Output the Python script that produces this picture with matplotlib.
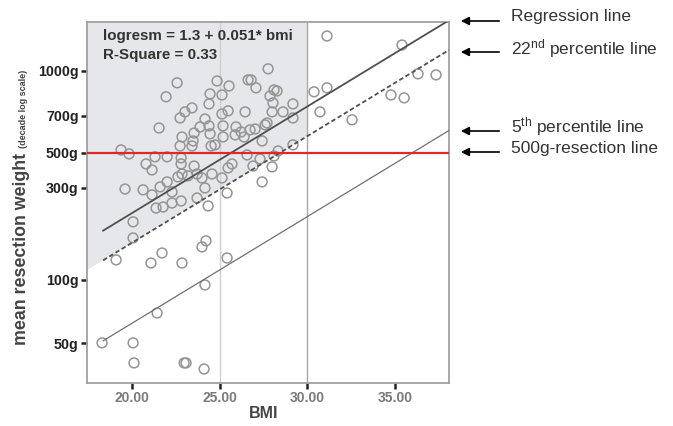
import matplotlib.pyplot as plt

plt.rcParams['font.family'] = ['Liberation Sans', 'DejaVu Sans']
plt.rcParams['mathtext.fontset'] = 'custom'
plt.rcParams['mathtext.rm'] = 'Liberation Sans'
plt.rcParams['mathtext.default'] = 'regular'

# BMI and log10 of mean resection weight (g)
bmi = [31.12, 35.40, 36.31, 37.34, 34.77, 35.52, 31.12, 30.38, 30.72, 32.55,
       27.76, 22.57, 24.85, 25.53, 26.62, 26.79, 27.07, 21.94, 24.45, 25.13,
       28.10, 28.27, 27.87, 28.04, 29.18, 24.39, 23.42, 23.02, 22.74, 25.13,
       25.48, 26.45, 27.99, 28.61, 29.18, 24.16, 23.88, 23.54, 21.54, 24.39,
       24.45, 22.85, 23.48, 22.74, 23.42, 24.51, 24.73, 25.19, 25.19, 25.93,
       25.88, 26.22, 26.39, 26.73, 27.02, 27.59, 27.70, 27.42, 29.18, 28.33,
       19.37, 19.83, 28.10, 26.56, 21.31, 22.00, 22.80, 27.30, 20.80, 22.80,
       23.54, 21.14, 25.70, 25.48, 26.90, 27.99, 22.85, 22.62, 23.19, 23.71,
       23.99, 24.56, 25.13, 27.42, 19.60, 20.63, 21.14, 21.60, 22.00, 22.28,
       24.16, 25.42, 21.37, 21.77, 22.28, 22.80, 23.71, 24.34, 20.06, 20.06,
       19.09, 21.08, 21.71, 22.85, 23.99, 24.22, 25.42, 24.16, 21.43, 18.29,
       20.06, 20.11, 22.97, 23.08, 24.11]
log_weight = [3.167, 3.124, 2.986, 2.981, 2.885, 2.871, 2.919, 2.900, 2.804, 2.766,
              3.010, 2.943, 2.952, 2.928, 2.957, 2.957, 2.919, 2.876, 2.890, 2.885,
              2.909, 2.904, 2.880, 2.847, 2.842, 2.842, 2.823, 2.804, 2.775, 2.794,
              2.809, 2.804, 2.804, 2.804, 2.775, 2.770, 2.732, 2.703, 2.727, 2.737,
              2.699, 2.684, 2.665, 2.641, 2.641, 2.641, 2.646, 2.737, 2.684, 2.732,
              2.694, 2.708, 2.684, 2.718, 2.722, 2.742, 2.751, 2.665, 2.646, 2.617,
              2.622, 2.603, 2.593, 2.598, 2.589, 2.589, 2.584, 2.579, 2.555, 2.555,
              2.545, 2.526, 2.555, 2.536, 2.545, 2.541, 2.507, 2.493, 2.498, 2.507,
              2.488, 2.507, 2.488, 2.469, 2.435, 2.431, 2.407, 2.445, 2.469, 2.421,
              2.440, 2.416, 2.344, 2.349, 2.368, 2.378, 2.392, 2.354, 2.278, 2.201,
              2.096, 2.081, 2.129, 2.081, 2.158, 2.187, 2.105, 1.976, 1.842, 1.699,
              1.699, 1.603, 1.603, 1.603, 1.574]

intercept = 1.3
slope = 0.051
offset_22nd = -0.142
offset_5th = -0.527
resection_level = 2.608
line_start = 18.35

x_min, x_max = 17.43, 38.08
y_min, y_max = 1.507, 3.234

ytick_pos = [3.0, 2.785, 2.608, 2.440, 2.0, 1.696]
ytick_labels = ['1000g', '700g', '500g', '300g', '100g', '50g']
xtick_pos = [20, 25, 30, 35]
xtick_labels = ['20.00', '25.00', '30.00', '35.00']

fig = plt.figure(figsize=(6.73, 4.26), dpi=100)
ax = fig.add_axes([87 / 673, 1 - 383 / 426, 362 / 673, 361 / 426])
ax.set_xlim(x_min, x_max)
ax.set_ylim(y_min, y_max)

# shaded region: above 22nd percentile line, left of BMI 30
sx = [x_min, 30, 30, x_min]
sy = [intercept + slope * x_min + offset_22nd, intercept + slope * 30 + offset_22nd, y_max, y_max]
ax.fill(sx, sy, color='#e5e7ea', zorder=0, lw=0)

ax.axvline(25, color='#cfcfcf', lw=1, zorder=1)
ax.axvline(30, color='#a8a8a8', lw=1, zorder=1)

ax.scatter(bmi, log_weight, s=50, facecolors='none', edgecolors='#959595', linewidths=1.1, zorder=2)

xs = [line_start, x_max]
ax.plot(xs, [intercept + slope * x for x in xs], color='#505050', lw=1.3, zorder=3)
ax.plot(xs, [intercept + slope * x + offset_22nd for x in xs], color='#505050', lw=1.3,
        ls=(0, (2.5, 1.5)), zorder=3)
ax.plot(xs, [intercept + slope * x + offset_5th for x in xs], color='#707070', lw=0.9, zorder=3)
ax.axhline(resection_level, color='#e02828', lw=1.6, zorder=4)

ax.set_yticks(ytick_pos)
ax.set_yticklabels(ytick_labels, fontsize=10.3, fontweight='bold', color='#222222')
ax.set_xticks(xtick_pos)
ax.set_xticklabels(xtick_labels, fontsize=10, fontweight='bold', color='#7a7a7a')
ax.tick_params(axis='both', length=4, width=1.8, color='#222222', pad=2)

for sp in ax.spines.values():
    sp.set_color('#a0a0a0')
    sp.set_linewidth(1.3)

ax.text(18.35, 3.165, 'logresm = 1.3 + 0.051* bmi', fontsize=10.9, fontweight='bold',
        color='#333333', va='center')
ax.text(18.35, 3.078, 'R-Square = 0.33', fontsize=10.9, fontweight='bold',
        color='#333333', va='center')

fig.text(264 / 673, 1 - 414 / 426, 'BMI', fontsize=11.5, fontweight='bold', color='#444444',
         ha='center', va='center')
fig.text(22 / 673, 1 - 249 / 426, 'mean resection weight', fontsize=12.8, fontweight='bold',
         color='#444444', rotation=90, ha='center', va='center')
fig.text(24 / 673, 1 - 109 / 426, '(decade log scale)', fontsize=6.5, fontweight='bold',
         color='#444444', rotation=90, ha='center', va='center')

# right side labels with arrows
labels = ['Regression line', '22$^{nd}$ percentile line', '5$^{th}$ percentile line',
          '500g-resection line']
arrow_y = [21, 52, 131, 152]
text_y = [17, 49, 127, 148]
for lab, ay, ty in zip(labels, arrow_y, text_y):
    ax.annotate('', xy=(458, 426 - ay), xytext=(502, 426 - ay), xycoords='figure pixels',
                textcoords='figure pixels',
                arrowprops=dict(arrowstyle='-|>', color='black', lw=1.2, mutation_scale=12))
    fig.text(511 / 673, 1 - ty / 426, lab, fontsize=12.5, color='#333333', va='center')

fig.savefig('out.png', dpi=100)
